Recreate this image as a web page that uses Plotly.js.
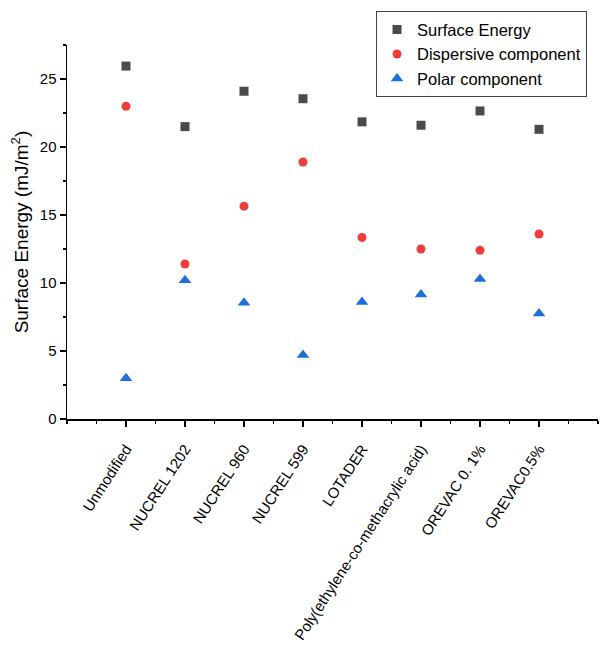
<!DOCTYPE html>
<html>
<head>
<meta charset="utf-8">
<script src="https://cdn.plot.ly/plotly-3.0.1.min.js"></script>
<style>html,body{margin:0;padding:0;background:#fff;}#chart{width:600px;height:649px;}</style>
</head>
<body>
<div id="chart"></div>
<script>
const categories = ["Unmodified", "NUCREL 1202", "NUCREL 960", "NUCREL 599", "LOTADER",
  "Poly(ethylene-co-methacrylic acid)", "OREVAC 0. 1%", "OREVAC0.5%"];
const positions = [1, 2, 3, 4, 5, 6, 7, 8];
const surfaceEnergy = [25.95, 21.5, 24.1, 23.55, 21.85, 21.6, 22.65, 21.3];
const dispersive = [23.0, 11.4, 15.65, 18.9, 13.35, 12.5, 12.4, 13.6];
const polar = [3.0, 10.2, 8.55, 4.7, 8.6, 9.15, 10.3, 7.75];

const font = "Liberation Sans, Arial, sans-serif";

const traces = [
  {x: positions, y: surfaceEnergy, name: "Surface Energy", type: "scatter", mode: "markers",
   marker: {symbol: "square", size: 9, color: "#4b4b4b"}},
  {x: positions, y: dispersive, name: "Dispersive component", type: "scatter", mode: "markers",
   marker: {symbol: "circle", size: 9, color: "#f03c3c"}},
  {x: positions, y: polar, name: "Polar component", type: "scatter", mode: "markers",
   marker: {symbol: "triangle-up", size: 11, color: "#1c6fdc"}}
];

const layout = {
  width: 600, height: 649,
  margin: {l: 67, r: 2, t: 45, b: 230},
  paper_bgcolor: "#fff", plot_bgcolor: "#fff",
  font: {family: font, color: "#000"},
  showlegend: true,
  legend: {x: 0.582, y: 1.09, xanchor: "left", yanchor: "top",
    bordercolor: "#444", borderwidth: 1, bgcolor: "rgba(255,255,255,0)",
    font: {family: font, size: 16.5, color: "#000"}, tracegroupgap: 0},
  xaxis: {
    range: [0, 9], tickmode: "array", tickvals: positions, ticktext: categories,
    tickangle: -57, ticks: "outside", ticklen: 6, tickwidth: 1.5, tickcolor: "#000",
    ticklabelstandoff: 8,
    showline: true, linecolor: "#000", linewidth: 1.5, showgrid: false, zeroline: false,
    tickfont: {family: font, size: 15, color: "#000"},
    minor: {dtick: 0.5, tick0: 0, ticks: "outside", ticklen: 3, tickwidth: 1.5, tickcolor: "#000", showgrid: false}
  },
  yaxis: {
    range: [0, 27.5], tickmode: "linear", tick0: 0, dtick: 5,
    ticks: "outside", ticklen: 6, tickwidth: 1.5, tickcolor: "#000",
    showline: true, linecolor: "#000", linewidth: 1.5, showgrid: false, zeroline: false,
    tickfont: {family: font, size: 15, color: "#000"},
    minor: {dtick: 2.5, ticks: "outside", ticklen: 3, tickwidth: 1.5, tickcolor: "#000", showgrid: false},
    title: {text: "Surface Energy (mJ/m<sup>2</sup>)", font: {family: font, size: 19, color: "#000"}, standoff: 6}
  }
};

Plotly.newPlot("chart", traces, layout, {displayModeBar: false, staticPlot: true});
</script>
</body>
</html>
